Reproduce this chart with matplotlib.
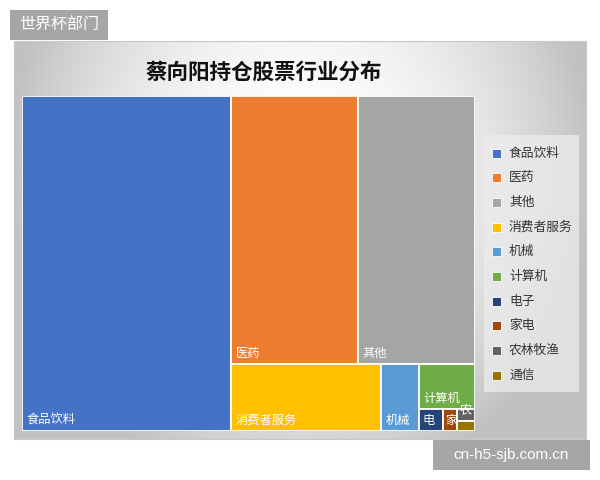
import numpy as np
import matplotlib
matplotlib.use("Agg")
import matplotlib.pyplot as plt
from matplotlib.patches import Rectangle

plt.rcParams['font.family'] = ['Noto Sans CJK SC', 'DejaVu Sans']

title = "蔡向阳持仓股票行业分布"
categories = ["食品饮料", "医药", "其他", "消费者服务", "机械", "计算机", "电子", "家电", "农林牧渔", "通信"]
values = [46.1, 22.4, 20.7, 6.6, 1.68, 1.66, 0.36, 0.20, 0.14, 0.12]
colors = ["#4472C4", "#ED7D31", "#A5A5A5", "#FFC000", "#5B9BD5", "#70AD47",
          "#264478", "#9E480E", "#636363", "#997300"]
watermark_tl = "世界杯部门"
watermark_br = "cn-h5-sjb.com.cn"

# treemap split structure (indices into categories)
structure = ('h', [0, ('v', [('h', [1, 2]),
                             ('h', [3, 4, ('v', [5, ('h', [6, 7, ('v', [8, 9])])])])])])

W, H = 600, 480
fig = plt.figure(figsize=(W / 100, H / 100), dpi=100)
fig.patch.set_facecolor('white')

# background axes in pixel coordinates
bg = fig.add_axes([0, 0, 1, 1])
bg.set_xlim(0, W)
bg.set_ylim(H, 0)
bg.axis('off')

# chart panel with radial gradient
px0, px1, py0, py1 = 14, 586, 41, 439
nx, ny = 300, 200
gx = np.linspace(-1, 1, nx)
gy = np.linspace(-1, 1, ny)
GX, GY = np.meshgrid(gx, gy)
r = np.sqrt(GX ** 2 + ((GY + 0.35) * 0.62) ** 2)
shade = 1.0 - 0.23 * np.clip(r, 0, 1.4) ** 2.0
shade = np.clip(shade, 0.76, 1.0)
img = np.dstack([shade, shade, shade])
bg.imshow(img, extent=(px0, px1, py1, py0), aspect='auto', zorder=0, interpolation='bilinear')
bg.add_patch(Rectangle((px0, py0), px1 - px0, py1 - py0, fill=False, ec='#c8c8c8', lw=0.8, zorder=1))

# watermarks
bg.add_patch(Rectangle((10, 10), 98, 30, fc='#a6a6a6', ec='none', zorder=2))
bg.text(59, 25, watermark_tl, color='white', fontsize=11.5, ha='center', va='center', zorder=3)
bg.add_patch(Rectangle((433, 440), 157, 30, fc='#a6a6a6', ec='none', zorder=2))
bg.text(511, 455, watermark_br, color='white', fontsize=11, ha='center', va='center',
        family=['Liberation Sans', 'DejaVu Sans'], zorder=3)

# title
bg.text(264, 72, title, fontsize=15.5, fontweight='bold', color='#111111',
        ha='center', va='center', zorder=3)

# legend box
bg.add_patch(Rectangle((484, 135), 95, 257, fc='#ececec', ec='none', alpha=0.75, zorder=2))
ly0, lstep = 153, 24.7
for i, (cat, col) in enumerate(zip(categories, colors)):
    y = ly0 + i * lstep
    bg.add_patch(Rectangle((492, y - 4.5), 9, 9, fc=col, ec='white', lw=0.6, zorder=3))
    bg.text(509, y, cat, fontsize=9.2, color='#333333', ha='left', va='center', zorder=3)

# treemap axes
tx0, tx1, ty0, ty1 = 22, 475, 96, 431
tw, th = tx1 - tx0, ty1 - ty0
ax = fig.add_axes([tx0 / W, 1 - ty1 / H, tw / W, th / H])
ax.set_xlim(0, tw)
ax.set_ylim(th, 0)
ax.axis('off')


def node_value(node):
    if isinstance(node, int):
        return values[node]
    return sum(node_value(c) for c in node[1])


def layout(node, x, y, w, h, out):
    if isinstance(node, int):
        out.append((node, x, y, w, h))
        return
    d, children = node
    tot = node_value(node)
    pos = 0.0
    for c in children:
        f = node_value(c) / tot
        if d == 'h':
            layout(c, x + pos * w, y, f * w, h, out)
        else:
            layout(c, x, y + pos * h, w, f * h, out)
        pos += f


rects = []
layout(structure, 0, 0, tw, th, rects)
char_w = 12.0
for idx, x, y, w, h in rects:
    p = Rectangle((x, y), w, h, fc=colors[idx], ec='white', lw=1.3)
    ax.add_patch(p)
    if h < 11:
        continue
    n = max(1, int((w - 6) / char_w))
    label = categories[idx][:n]
    t = ax.text(x + min(5, w * 0.15), y + h - 4, label, color='white', fontsize=8.8,
                ha='left', va='bottom')
    t.set_clip_path(p)

fig.savefig('out.png', dpi=100)
